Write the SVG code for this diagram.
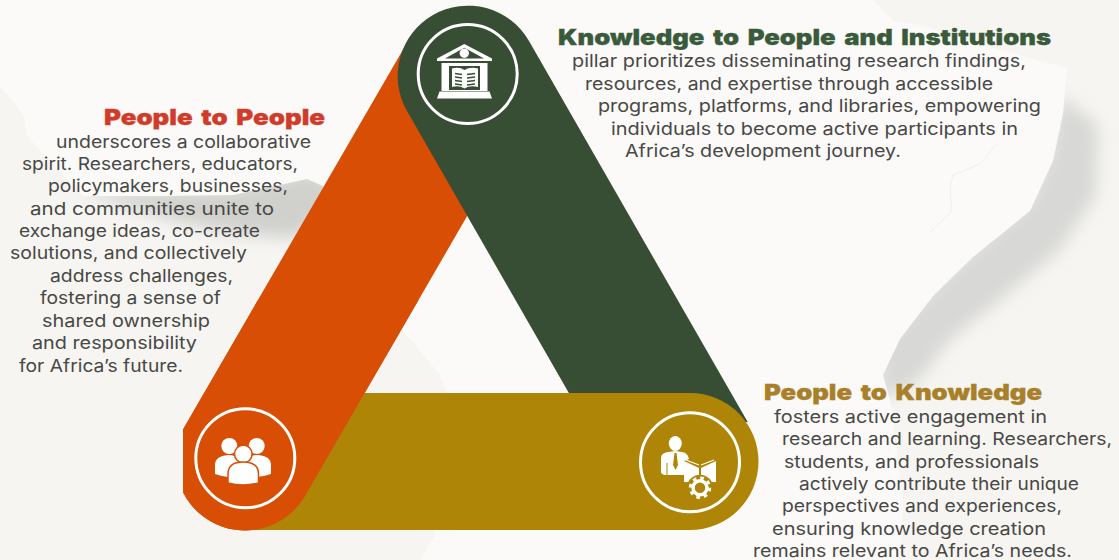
<svg xmlns="http://www.w3.org/2000/svg" width="1119" height="560" viewBox="0 0 1119 560">
<style>
.body{font-family:"Inter","Noto Sans","Liberation Sans",sans-serif;font-size:17.5px;font-weight:400;fill:#484846}
.title{font-family:"Inter","Noto Sans","Liberation Sans",sans-serif;font-size:22px;font-weight:900;stroke-width:.3;word-spacing:3px}
.ring{fill:none;stroke:#fff;stroke-width:3}
.w{fill:#fff}
</style>
<defs>
<filter id="soft" x="-20%" y="-20%" width="140%" height="140%"><feGaussianBlur stdDeviation="8"/></filter>
<clipPath id="orangeClip"><rect x="183" y="0" width="400" height="560"/></clipPath>
<clipPath id="orangeLow"><rect x="183" y="300" width="400" height="260"/></clipPath>
<clipPath id="greenClip"><rect x="380" y="0" width="400" height="422"/></clipPath>
</defs>
<g id="paper">
<rect width="1119" height="560" fill="#f6f5f1"/>
<path d="M1060 95L1098 125L1096 195L1060 250L1000 300L950 340L915 385L880 400L880 345L935 285L973 250L1030 200L1050 150Z" fill="#d8d8d6" filter="url(#soft)"/>
<path d="M75 190L160 192L233 190L307 172L335 180L325 220L293 238L240 234L180 222Z" fill="#d0d0cd" filter="url(#soft)"/>
<path d="M0 0H873L893 21L920 25L1000 50L1067 68L1063 114L1053 161L1030 211L973 257L933 296L900 339L883 375L890 400L903 500L900 560H420L435 535L447 393L440 375L410 339L340 260L323 186L307 179L233 195L160 196L83 196L27 136L23 114L0 86Z" fill="#fbfaf8"/>
<path d="M997 143L980 164L953 175L950 189L952 211L930 232" fill="none" stroke="#f1f0ed" stroke-width="1"/>
</g>
<g id="connectors">
<path id="band-orange" clip-path="url(#orangeClip)" d="M185 426L408 41A69 69 0 0 1 528 111L305 496A69 69 0 0 1 185 426Z" fill="#d84e05"/>
<path id="band-green" clip-path="url(#greenClip)" d="M529 41L750 426A70 70 0 0 1 628 496L407 111A70 70 0 0 1 529 41Z" fill="#384e34"/>
<path id="band-olive" d="M245 393H690A68.500 68.500 0 0 1 690 530H245Z" fill="#ae8506"/>
<path id="band-orange-front" clip-path="url(#orangeLow)" d="M185 426L408 41A69 69 0 0 1 528 111L305 496A69 69 0 0 1 185 426Z" fill="#d84e05"/>
</g>
<g id="node-knowledge">
<circle class="ring" cx="467.700" cy="74" r="49.500"/>
<path class="w" d="M464.300 44L492 58.500V61H437V58.500ZM464.300 47.800L445 58.500H484Z" fill-rule="evenodd"/>
<circle class="w" cx="464.300" cy="53.300" r="4.700"/>
<path class="w" d="M441.500 63H487.500V91H441.500ZM449 66V90H480V66Z" fill-rule="evenodd"/>
<path class="w" d="M439.500 91.500H489.500L492 98.500H437Z"/>
<path class="w" d="M452 68.500Q459 66.500 464.500 70Q470 66.500 478 68.500V87Q470 85 464.500 88.500Q459 85 452 87Z"/>
<path d="M455 73.500L462 74.500M455 77L462 78M455 80.500L462 81.500M455 84L462 85M467 74.500L475 73.500M467 78L475 77M467 81.500L475 80.500M467 85L475 84" stroke="#384e34" stroke-width="1.300" fill="none"/>
<text class="title" x="558" y="45" textLength="493" lengthAdjust="spacingAndGlyphs" fill="#3a5a3c" stroke="#3a5a3c">Knowledge to People and Institutions</text>
<text class="body" x="572" y="67" textLength="454" lengthAdjust="spacingAndGlyphs">pillar prioritizes disseminating research findings,</text>
<text class="body" x="585" y="90" textLength="408" lengthAdjust="spacingAndGlyphs">resources, and expertise through accessible</text>
<text class="body" x="598" y="112" textLength="443" lengthAdjust="spacingAndGlyphs">programs, platforms, and libraries, empowering</text>
<text class="body" x="611" y="135" textLength="407" lengthAdjust="spacingAndGlyphs">individuals to become active participants in</text>
<text class="body" x="625" y="157" textLength="276" lengthAdjust="spacingAndGlyphs">Africa’s development journey.</text>
</g>
<g id="node-people">
<circle class="ring" cx="245.300" cy="458.300" r="49.500"/>
<circle class="w" cx="229.300" cy="446" r="8"/>
<circle class="w" cx="256.700" cy="446" r="8"/>
<path class="w" d="M215 474V465Q215 456 228 455Q243 455 243 470V478Q226 478 215 474Z"/>
<path class="w" d="M271 474V465Q271 456 258 455Q243 455 243 470V478Q260 478 271 474Z"/>
<circle class="w" cx="243.300" cy="454" r="8.800" stroke="#d84e05" stroke-width="1.500"/>
<path class="w" d="M228 483V474Q228 462 243.300 462Q258.500 462 258.500 474V483Q243 487 228 483Z" stroke="#d84e05" stroke-width="1.500"/>
<text class="title" x="104" y="125" textLength="221" lengthAdjust="spacingAndGlyphs" fill="#d13b2a" stroke="#d13b2a">People to People</text>
<text class="body" x="56" y="148" textLength="255" lengthAdjust="spacingAndGlyphs">underscores a collaborative</text>
<text class="body" x="22" y="170" textLength="276" lengthAdjust="spacingAndGlyphs">spirit. Researchers, educators,</text>
<text class="body" x="48" y="192" textLength="240" lengthAdjust="spacingAndGlyphs">policymakers, businesses,</text>
<text class="body" x="30" y="215" textLength="244" lengthAdjust="spacingAndGlyphs">and communities unite to</text>
<text class="body" x="19" y="237" textLength="241" lengthAdjust="spacingAndGlyphs">exchange ideas, co-create</text>
<text class="body" x="10" y="259" textLength="237" lengthAdjust="spacingAndGlyphs">solutions, and collectively</text>
<text class="body" x="50" y="282" textLength="183" lengthAdjust="spacingAndGlyphs">address challenges,</text>
<text class="body" x="40" y="304" textLength="181" lengthAdjust="spacingAndGlyphs">fostering a sense of</text>
<text class="body" x="42" y="327" textLength="168" lengthAdjust="spacingAndGlyphs">shared ownership</text>
<text class="body" x="32" y="349" textLength="165" lengthAdjust="spacingAndGlyphs">and responsibility</text>
<text class="body" x="19" y="372" textLength="164" lengthAdjust="spacingAndGlyphs">for Africa’s future.</text>
</g>
<g id="node-research">
<circle class="ring" cx="690" cy="462.300" r="49.500"/>
<ellipse class="w" cx="675.300" cy="443.500" rx="6.500" ry="7.500"/>
<path class="w" d="M661 458Q661 453 668 452L675 451L682 452Q688 453 689 459L684 461V475H664L661 473Z"/>
<path d="M674.500 453H676.500L678 465L675.500 470L673 465Z" fill="#ae8506"/>
<path d="M667 463V475" stroke="#ae8506" stroke-width="1"/>
<path class="w" d="M684 461L699 468V482H684Z"/>
<path class="w" d="M716 461L701 468V482H716Z"/>
<path d="M686 460L699 465M714 460L701 465" stroke="#fff" stroke-width="1.200"/>
<circle cx="700" cy="487.700" r="13" fill="#ae8506"/>
<circle cx="700" cy="487.700" r="7" fill="none" stroke="#fff" stroke-width="3.500"/>
<circle cx="700" cy="487.700" r="9.500" fill="none" stroke="#fff" stroke-width="3.500" stroke-dasharray="3.500 3.960"/>
<text class="title" x="764" y="400" textLength="278" lengthAdjust="spacingAndGlyphs" fill="#a88029" stroke="#a88029">People to Knowledge</text>
<text class="body" x="774" y="423" textLength="273" lengthAdjust="spacingAndGlyphs">fosters active engagement in</text>
<text class="body" x="782" y="445" textLength="330" lengthAdjust="spacingAndGlyphs">research and learning. Researchers,</text>
<text class="body" x="784" y="468" textLength="255" lengthAdjust="spacingAndGlyphs">students, and professionals</text>
<text class="body" x="799" y="490" textLength="280" lengthAdjust="spacingAndGlyphs">actively contribute their unique</text>
<text class="body" x="782" y="512" textLength="280" lengthAdjust="spacingAndGlyphs">perspectives and experiences,</text>
<text class="body" x="772" y="535" textLength="274" lengthAdjust="spacingAndGlyphs">ensuring knowledge creation</text>
<text class="body" x="753" y="557" textLength="319" lengthAdjust="spacingAndGlyphs">remains relevant to Africa’s needs.</text>
</g>
</svg>
